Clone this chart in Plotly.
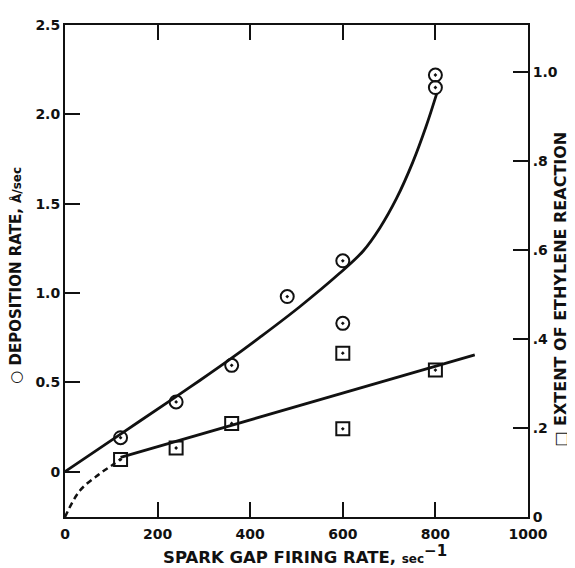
import plotly.graph_objects as go

# --- data ---
dep_x = [120, 240, 360, 480, 600, 600, 800, 800]
dep_rate = [0.19, 0.39, 0.595, 0.98, 1.18, 0.83, 2.22, 2.15]

ext_x = [120, 240, 360, 600, 600, 800]
ext_val = [0.129, 0.155, 0.21, 0.368, 0.198, 0.33]

dep_fit_x = [0, 120, 240, 291, 356, 420, 507, 593, 644, 680, 716, 751, 780, 803]
dep_fit_y = [0, 0.21, 0.42, 0.51, 0.628, 0.75, 0.923, 1.11, 1.235, 1.364, 1.529, 1.731, 1.933, 2.117]

ext_fit_x = [120, 885]
ext_fit_y = [0.134, 0.364]

ext_dash_x = [0, 32, 75, 104, 120]
ext_dash_y = [0, 0.059, 0.097, 0.118, 0.13]

x_ticks = [0, 200, 400, 600, 800, 1000]
left_ticks = [0, 0.5, 1.0, 1.5, 2.0, 2.5]
left_labels = ["0", "0.5", "1.0", "1.5", "2.0", "2.5"]
right_ticks = [0, 0.2, 0.4, 0.6, 0.8, 1.0]
right_labels = ["0", ".2", ".4", ".6", ".8", "1.0"]

FONT = "DejaVu Sans"
BLACK = "#111111"

fig = go.Figure()

fig.add_trace(go.Scatter(x=dep_fit_x, y=dep_fit_y, mode="lines",
                         line=dict(color=BLACK, width=2.8, shape="spline", smoothing=1.0),
                         hoverinfo="skip"))
fig.add_trace(go.Scatter(x=dep_x, y=dep_rate, mode="markers",
                         marker=dict(symbol="circle-open-dot", size=13, color=BLACK,
                                     line=dict(color=BLACK, width=2))))

fig.add_trace(go.Scatter(x=ext_fit_x, y=ext_fit_y, mode="lines", yaxis="y2",
                         line=dict(color=BLACK, width=2.8), hoverinfo="skip"))
fig.add_trace(go.Scatter(x=ext_dash_x, y=ext_dash_y, mode="lines", yaxis="y2",
                         line=dict(color=BLACK, width=2.5, dash="6px,4px", shape="spline"),
                         hoverinfo="skip"))
fig.add_trace(go.Scatter(x=ext_x, y=ext_val, mode="markers", yaxis="y2",
                         marker=dict(symbol="square-open-dot", size=13, color=BLACK,
                                     line=dict(color=BLACK, width=2))))

tickfont = dict(family=FONT, size=14, color=BLACK, weight="bold")

# page body has an 8px default margin: figure size/margins compensate for it
fig.update_layout(
    width=567, height=560,
    margin=dict(l=57, r=47, t=9, b=51),
    plot_bgcolor="white", paper_bgcolor="white",
    showlegend=False,
    font=dict(family=FONT, color=BLACK),
    xaxis=dict(range=[0, 1000], tickvals=x_ticks, ticks="inside", ticklen=15, tickwidth=1.5,
               tickcolor=BLACK, showline=True, linewidth=2, linecolor=BLACK, mirror="ticks",
               showgrid=False, zeroline=False, tickfont=tickfont, ticklabelstandoff=3),
    yaxis=dict(range=[-0.254, 2.5], tickvals=left_ticks, ticktext=left_labels,
               ticks="inside", ticklen=15, tickwidth=1.5, tickcolor=BLACK,
               showline=True, linewidth=2, linecolor=BLACK,
               showgrid=False, zeroline=False, tickfont=tickfont),
    yaxis2=dict(range=[0, 1.105], tickvals=right_ticks, ticktext=right_labels,
                overlaying="y", side="right", anchor="x",
                ticks="inside", ticklen=15, tickwidth=1.5, tickcolor=BLACK,
                showline=True, linewidth=2, linecolor=BLACK,
                showgrid=False, zeroline=False, tickfont=tickfont),
)

fig.add_annotation(xref="paper", yref="paper", x=0.518, y=-0.077,
                   text="SPARK GAP FIRING RATE, <span style='font-size:12px'>sec</span>"
                        "<sup><span style='font-size:15px'>−1</span></sup>",
                   showarrow=False, font=dict(family=FONT, size=16.5, color=BLACK, weight="bold"),
                   xanchor="center", yanchor="middle")
fig.add_annotation(xref="paper", yref="paper", x=-0.105, y=0.491,
                   text="○ DEPOSITION RATE, <span style='font-size:12px'>Å/sec</span>",
                   textangle=-90, showarrow=False,
                   font=dict(family=FONT, size=15, color=BLACK, weight="bold"),
                   xanchor="center", yanchor="middle")
fig.add_annotation(xref="paper", yref="paper", x=1.071, y=0.464,
                   text="□ EXTENT OF ETHYLENE REACTION",
                   textangle=-90, showarrow=False,
                   font=dict(family=FONT, size=16, color=BLACK, weight="bold"),
                   xanchor="center", yanchor="middle")

fig.write_html("out.html")
